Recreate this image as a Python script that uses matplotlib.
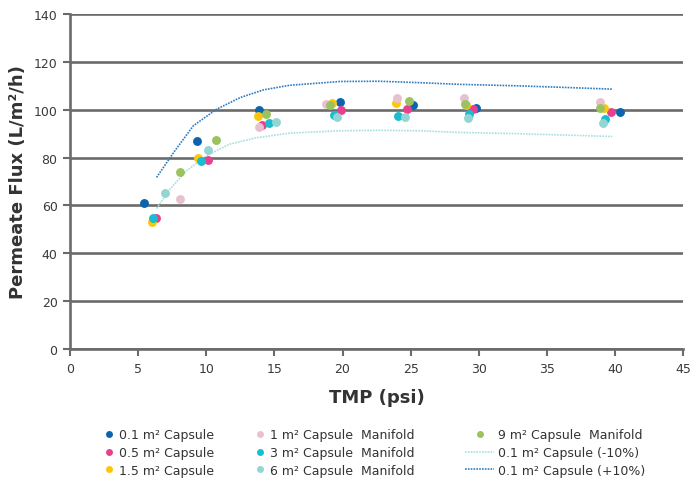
import matplotlib
matplotlib.use("Agg")
import matplotlib.pyplot as plt
from matplotlib.lines import Line2D

# Flux vs. TMP measurements for each membrane format
series_names = [
    "0.1 m\u00b2 Capsule",
    "0.5 m\u00b2 Capsule",
    "1.5 m\u00b2 Capsule",
    "1 m\u00b2 Capsule  Manifold",
    "3 m\u00b2 Capsule  Manifold",
    "6 m\u00b2 Capsule  Manifold",
    "9 m\u00b2 Capsule  Manifold",
]
series_colors = ["#0a64b0", "#e8408f", "#fcc60a", "#e6c2cf", "#1bbccd", "#93d5d3", "#9cc25d"]

tmp_01 = [5.4, 9.3, 13.9, 19.8, 25.2, 29.8, 40.4]
flux_01 = [61.0, 87.0, 99.8, 103.3, 102.1, 100.9, 99.0]

tmp_05 = [6.3, 10.1, 14.1, 19.9, 24.7, 29.6, 39.7]
flux_05 = [54.7, 78.9, 93.8, 99.9, 100.2, 100.2, 99.2]

tmp_15 = [6.0, 9.4, 13.8, 19.2, 23.9, 29.1, 39.2]
flux_15 = [52.9, 79.9, 97.4, 103.0, 102.7, 101.9, 100.6]

tmp_1m = [8.1, 13.9, 18.8, 24.0, 28.9, 38.9]
flux_1m = [62.6, 92.8, 102.6, 105.1, 104.9, 103.4]

tmp_3m = [6.1, 9.6, 14.6, 19.4, 24.1, 29.3, 39.3]
flux_3m = [54.7, 78.5, 94.6, 97.8, 97.5, 98.1, 96.3]

tmp_6m = [7.0, 10.1, 15.1, 19.6, 24.6, 29.2, 39.1]
flux_6m = [65.0, 83.1, 95.0, 96.9, 97.1, 96.5, 94.6]

tmp_9m = [8.1, 10.7, 14.4, 19.1, 24.9, 29.0, 38.9]
flux_9m = [74.0, 87.3, 98.4, 102.0, 103.5, 102.4, 100.6]

# Tolerance band around the 0.1 m2 capsule trend
band_tmp = [6.35, 7.6, 9.05, 10.75, 12.5, 14.2, 16.1, 19.8, 22.7, 25.7, 28.6, 32.75, 36.4, 39.8]
band_upper = [71.7, 82.1, 93.3, 100.2, 105.1, 108.3, 110.2, 111.8, 111.9, 111.3, 110.6, 110.0, 109.3, 108.6]
band_tmp_low = [6.35, 7.33, 8.55, 10.0, 11.7, 13.7, 16.1, 19.8, 22.7, 25.7, 28.6, 32.75, 36.4, 39.8]
band_lower = [58.7, 66.8, 74.5, 80.7, 85.6, 88.3, 90.2, 91.2, 91.4, 91.2, 90.5, 90.0, 89.4, 88.8]

x_ticks = [0, 5, 10, 15, 20, 25, 30, 35, 40, 45]
y_ticks = [0, 20, 40, 60, 80, 100, 120, 140]

grid_color = "#6b6b6b"
text_color = "#333333"

plt.rcParams["font.family"] = ["DejaVu Sans"]

fig = plt.figure(figsize=(6.9, 4.81), dpi=100)
ax = fig.add_axes([0.1015, 0.2723, 0.8885, 0.6965])

ax.set_xlim(0, 45)
ax.set_ylim(0, 140)
ax.set_xticks(x_ticks)
ax.set_yticks(y_ticks)
ax.yaxis.grid(True, color=grid_color, linewidth=1.9)
ax.set_axisbelow(True)
for side in ("top", "right"):
    ax.spines[side].set_visible(False)
for side in ("left", "bottom"):
    ax.spines[side].set_color(grid_color)
    ax.spines[side].set_linewidth(1.9)
ax.tick_params(axis="both", direction="out", length=5, width=1.5, color=grid_color,
               labelsize=9, labelcolor="#3a3a3a", pad=4)

ax.set_xlabel("TMP (psi)", fontsize=13, fontweight="bold", color=text_color, labelpad=10)
ax.set_ylabel("Permeate Flux (L/m\u00b2/h)", fontsize=13, fontweight="bold", color=text_color, labelpad=5)

# Tolerance lines
dots = (0, (1.0, 0.7))
ax.plot(band_tmp_low, band_lower, linestyle=dots, color="#a8dedf", linewidth=1.2, zorder=2)
ax.plot(band_tmp, band_upper, linestyle=dots, color="#2d7bc0", linewidth=1.2, zorder=2)

all_x = [tmp_01, tmp_05, tmp_15, tmp_1m, tmp_3m, tmp_6m, tmp_9m]
all_y = [flux_01, flux_05, flux_15, flux_1m, flux_3m, flux_6m, flux_9m]
draw_order = [3, 2, 6, 0, 1, 4, 5]
for i in draw_order:
    ax.plot(all_x[i], all_y[i], linestyle="none", marker="o", markersize=6.4,
            markeredgewidth=0, color=series_colors[i], zorder=3 + i * 0.01)

# Legend laid out in three columns
def dot(color):
    return Line2D([], [], linestyle="none", marker="o", markersize=5.0,
                  markeredgewidth=0, color=color)

legend_kw = dict(frameon=False, fontsize=9, labelcolor=text_color, handlelength=1.0,
                 handletextpad=0.35, labelspacing=0.38, borderpad=0, loc="upper left")
legend_top = 1 - 423 / 481

col1 = [dot(series_colors[i]) for i in range(3)]
leg1 = fig.legend(col1, series_names[0:3], **legend_kw)
leg1.set_bbox_to_anchor((96 / 690, legend_top), transform=fig.transFigure)

col2 = [dot(series_colors[i]) for i in range(3, 6)]
leg2 = fig.legend(col2, series_names[3:6], **legend_kw)
leg2.set_bbox_to_anchor((247 / 690, legend_top), transform=fig.transFigure)

col3 = [dot(series_colors[6]),
        Line2D([], [], linestyle=dots, color="#a8dedf", linewidth=1.2),
        Line2D([], [], linestyle=dots, color="#2d7bc0", linewidth=1.2)]
col3_names = [series_names[6], "0.1 m\u00b2 Capsule (-10%)", "0.1 m\u00b2 Capsule (+10%)"]
kw3 = dict(legend_kw)
kw3["handlelength"] = 2.3
leg3 = fig.legend(col3, col3_names, **kw3)
leg3.set_bbox_to_anchor((459 / 690, legend_top), transform=fig.transFigure)

fig.savefig("out.png", dpi=100)
